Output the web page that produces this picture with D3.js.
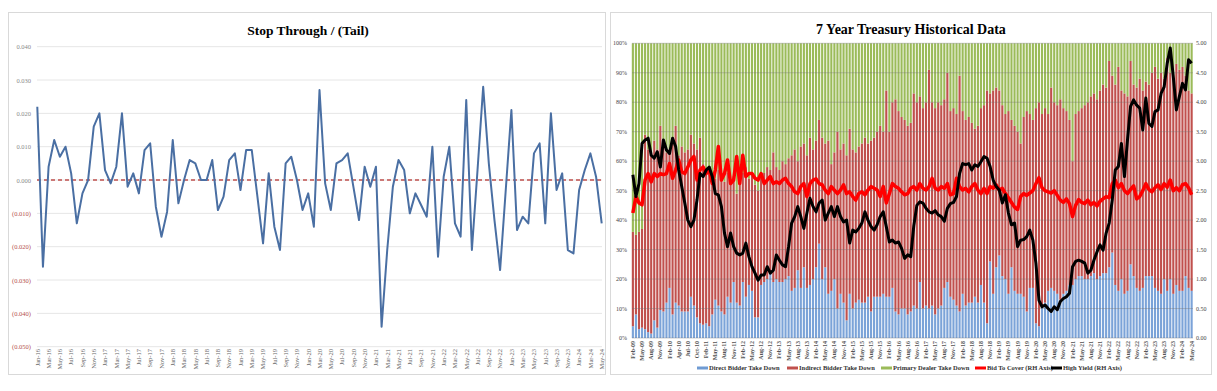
<!DOCTYPE html>
<html>
<head>
<meta charset="utf-8">
<script src="https://cdn.jsdelivr.net/npm/d3@7"></script>
<style>
  body { margin: 0; background: #fff; }
  text { font-family: "Liberation Serif", "Times New Roman", serif; }
</style>
</head>
<body>
<svg id="chart" width="1217" height="391"></svg>
<script>
// ---- left chart: stop through / (tail), monthly Jan-16 .. May-24
const STOP_TAIL = [
  0.022, -0.026, 0.004, 0.012, 0.007, 0.010, 0.002, -0.013, -0.004, 0.000, 0.016, 0.020,
  0.003, -0.001, 0.004, 0.020, -0.002, 0.002, -0.004, 0.009, 0.011, -0.008, -0.017, -0.0095,
  0.012, -0.007, 0.000, 0.006, 0.005, 0.000, 0.000, 0.006, -0.009, -0.005, 0.006, 0.008,
  -0.003, 0.009, 0.009, -0.005, -0.019, 0.002, -0.014, -0.021, 0.005, 0.007, 0.000, -0.009,
  -0.004, -0.014, 0.027, -0.001, -0.009, 0.005, 0.006, 0.008, -0.002, -0.012, 0.004, -0.002,
  0.004, -0.044, -0.021, -0.002, 0.006, 0.003, -0.010, -0.004, -0.0075, -0.011, 0.010, -0.023,
  0.001, 0.010, -0.013, -0.017, 0.024, -0.021, 0.003, 0.028, 0.005, -0.012, -0.027, -0.003,
  0.021, -0.015, -0.011, -0.013, 0.008, 0.011, -0.013, 0.020, -0.003, 0.002, -0.021, -0.022,
  -0.003, 0.003, 0.008, 0.001, -0.013
];
const LEFT_TICKS = [
  "Jan-16","Mar-16","May-16","Jul-16","Sep-16","Nov-16",
  "Jan-17","Mar-17","May-17","Jul-17","Sep-17","Nov-17",
  "Jan-18","Mar-18","May-18","Jul-18","Sep-18","Nov-18",
  "Jan-19","Mar-19","May-19","Jul-19","Sep-19","Nov-19",
  "Jan-20","Mar-20","May-20","Jul-20","Sep-20","Nov-20",
  "Jan-21","Mar-21","May-21","Jul-21","Sep-21","Nov-21",
  "Jan-22","Mar-22","May-22","Jul-22","Sep-22","Nov-22",
  "Jan-23","Mar-23","May-23","Jul-23","Sep-23","Nov-23",
  "Jan-24","Mar-24","May-24"
];
const LEFT_Y_TICKS = [0.04, 0.03, 0.02, 0.01, 0, -0.01, -0.02, -0.03, -0.04, -0.05];

// ---- right chart: 7 year auctions Feb-09 .. May-24 (184 auctions)
const DIRECT = [
  4, 8, 3, 3.5, 3, 2, 1.5, 6, 3.5, 9.5, 9, 12, 17, 8, 12, 11, 9, 9, 9, 14,
  11, 7, 5, 4.5, 5, 4, 8, 13, 11, 9, 8, 14, 12, 19, 12, 11, 19, 14, 18, 16,
  7, 7, 18, 19, 20, 22, 19, 20, 19, 19, 20, 21, 16, 17, 23, 17, 24, 17, 18, 20,
  24, 32, 20, 24, 15, 16, 20, 10, 15, 12, 6, 15, 10, 12, 13, 12, 12, 14, 9, 14,
  14, 14, 15, 14, 14, 17, 9, 8, 10, 10, 8, 9, 11, 10, 19, 10, 11, 10, 11, 8,
  10, 11, 17, 19, 14, 13, 11, 9, 15, 11, 12, 12, 14, 12, 18, 12, 5, 26, 15, 24,
  28, 21, 20, 15, 24, 16, 15, 15, 14, 9, 17, 17, 5, 4, 11, 12, 16, 17, 16, 15,
  13, 15, 16, 18, 18, 20, 21, 21, 20, 20, 21, 22, 20, 21, 22, 22, 24, 29, 18, 16,
  20, 15, 16, 25, 21, 17, 16, 17, 21, 21, 21, 17, 16, 15, 20, 16, 20, 15, 18, 16,
  16, 21, 17, 16
];
const INDIRECT = [
  32, 27, 33, 33.5, 66, 62, 61.5, 61, 60.5, 62.5, 57, 51, 47, 59, 60, 51, 56, 54, 55, 55,
  55, 57, 63, 54.5, 51, 54, 47, 41, 46, 46, 45, 42, 40, 36, 37, 42, 37, 44, 36, 39,
  45, 43, 36, 37, 38, 35, 44, 38, 38, 41, 39, 40, 46, 47, 37, 48, 42, 45, 50, 44,
  43, 42, 48, 42, 52, 43, 43, 60, 49, 54, 56, 56, 54, 51, 52, 54, 56, 52, 58, 54,
  56, 58, 55, 70, 56, 63, 72, 69, 65, 64, 64, 64, 72, 70, 63, 68, 69, 81, 69, 70,
  70, 68, 64, 71, 63, 65, 65, 80, 62, 63, 63, 61, 57, 60, 60, 67, 79, 57, 69, 61,
  56, 58, 56, 62, 50, 56, 55, 51, 61, 68, 59, 57, 73, 76, 65, 66, 60, 68, 64, 64,
  68, 63, 61, 56, 42, 56, 56, 57, 59, 60, 61, 61, 61, 63, 64, 63, 70, 60, 68, 76,
  64, 68, 66, 69, 65, 68, 72, 67, 66, 65, 69, 75, 72, 75, 68, 79, 70, 73, 75, 75,
  76, 68, 67, 67
];
const DEALER = [
  64, 65, 64, 63, 31, 36, 37, 33, 36, 28, 34, 37, 36, 33, 28, 38, 35, 37, 36, 31,
  34, 36, 32, 41, 44, 42, 45, 46, 43, 45, 47, 44, 48, 45, 51, 47, 44, 42, 46, 45,
  48, 50, 46, 44, 42, 43, 37, 42, 43, 40, 41, 39, 38, 36, 40, 35, 34, 38, 32, 36,
  33, 26, 32, 34, 33, 41, 37, 30, 36, 34, 38, 29, 36, 37, 35, 34, 32, 34, 33, 32,
  30, 28, 30, 16, 30, 20, 19, 23, 25, 26, 28, 27, 17, 20, 18, 22, 20, 9, 20, 22,
  20, 21, 19, 10, 23, 22, 24, 11, 23, 26, 25, 27, 29, 28, 22, 21, 16, 17, 16, 15,
  16, 21, 24, 23, 26, 28, 30, 34, 25, 23, 24, 26, 22, 20, 24, 22, 24, 15, 20, 21,
  19, 22, 23, 26, 40, 24, 23, 22, 21, 20, 18, 17, 19, 16, 14, 15, 6, 11, 14, 8,
  16, 17, 18, 6, 14, 15, 12, 16, 13, 14, 10, 8, 12, 10, 12, 5, 10, 12, 7, 9,
  8, 11, 16, 17
];
const BID_TO_COVER = [
  2.12, 2.40, 2.29, 2.26, 2.68, 2.79, 2.65, 2.79, 2.74, 2.79, 2.77, 2.79, 2.96, 2.71, 2.85, 3.02, 2.82, 2.79, 2.90, 3.02,
  3.08, 2.68, 2.85, 2.90, 2.79, 2.85, 2.62, 2.85, 3.25, 2.68, 2.79, 3.02, 2.62, 2.68, 3.08, 2.62, 3.10, 2.74, 2.79, 2.79,
  2.71, 2.68, 2.79, 2.62, 2.68, 2.74, 2.62, 2.65, 2.62, 2.68, 2.71, 2.62, 2.57, 2.48, 2.45, 2.57, 2.62, 2.40, 2.62, 2.68,
  2.70, 2.62, 2.60, 2.51, 2.45, 2.57, 2.51, 2.45, 2.51, 2.60, 2.45, 2.48, 2.40, 2.34, 2.45, 2.48, 2.43, 2.51, 2.57, 2.54,
  2.51, 2.40, 2.57, 2.29, 2.45, 2.62, 2.57, 2.54, 2.48, 2.43, 2.45, 2.54, 2.57, 2.51, 2.62, 2.54, 2.51, 2.57, 2.71, 2.54,
  2.51, 2.57, 2.54, 2.62, 2.43, 2.45, 2.71, 2.57, 2.51, 2.54, 2.48, 2.57, 2.62, 2.51, 2.45, 2.54, 2.45, 2.57, 2.54, 2.60,
  2.51, 2.54, 2.45, 2.38, 2.30, 2.22, 2.18, 2.40, 2.45, 2.42, 2.46, 2.50, 2.62, 2.72, 2.55, 2.50, 2.48, 2.46, 2.50, 2.42,
  2.34, 2.30, 2.36, 2.28, 2.06, 2.25, 2.35, 2.30, 2.28, 2.34, 2.26, 2.30, 2.24, 2.32, 2.36, 2.40, 2.38, 2.62, 2.68, 2.55,
  2.62, 2.50, 2.45, 2.52, 2.58, 2.36, 2.40, 2.50, 2.62, 2.52, 2.48, 2.55, 2.60, 2.52, 2.62, 2.56, 2.68, 2.50, 2.55, 2.50,
  2.60, 2.62, 2.55, 2.43
];
const HIGH_YIELD = [
  2.77, 2.40, 2.62, 3.30, 3.36, 3.39, 3.10, 3.05, 3.16, 2.90, 3.36, 3.19, 3.13, 3.39, 3.25, 2.85, 2.57, 2.29, 2.00, 1.89,
  2.00, 2.34, 2.79, 2.74, 2.85, 2.90, 2.74, 2.45, 2.43, 2.23, 1.78, 1.55, 1.78, 1.55, 1.44, 1.41, 1.44, 1.61, 1.38, 1.21,
  1.10, 0.98, 1.07, 1.07, 1.21, 1.10, 1.15, 1.41, 1.32, 1.24, 1.21, 1.55, 1.95, 2.06, 2.23, 2.06, 1.86, 2.12, 2.37, 2.23,
  2.14, 2.29, 2.34, 2.00, 2.12, 2.23, 2.06, 2.23, 2.06, 1.97, 2.00, 1.61, 1.83, 1.80, 1.86, 1.95, 2.14, 2.00, 1.89, 1.83,
  1.92, 2.06, 2.14, 1.89, 1.63, 1.66, 1.61, 1.63, 1.52, 1.35, 1.41, 1.38, 1.90, 2.25, 2.31, 2.29, 2.20, 2.14, 2.12, 2.16,
  2.09, 2.06, 1.98, 2.20, 2.28, 2.30, 2.40, 2.79, 2.96, 2.94, 2.96, 2.85, 2.94, 2.91, 2.99, 3.08, 3.05, 2.91, 2.68, 2.57,
  2.51, 2.29, 2.43, 2.12, 1.92, 1.95, 1.55, 1.66, 1.67, 1.72, 1.83, 1.66, 1.27, 0.64, 0.53, 0.56, 0.50, 0.45, 0.53, 0.48,
  0.62, 0.67, 0.70, 0.76, 1.21, 1.30, 1.32, 1.30, 1.27, 1.10, 1.15, 1.32, 1.46, 1.58, 1.49, 1.78, 1.95, 2.34, 2.85, 2.91,
  3.30, 2.74, 3.36, 3.93, 4.04, 3.95, 3.90, 3.53, 4.07, 3.64, 3.59, 3.84, 3.87, 4.15, 4.26, 4.66, 4.92, 4.43, 3.87, 4.10,
  4.32, 4.21, 4.72, 4.66
];
const RIGHT_TICKS = [
  "Feb-09","May-09","Aug-09","Nov-09","Feb-10","Apr-10","Jul-10","Oct-10",
  "Feb-11","May-11","Aug-11","Nov-11","Feb-12","May-12","Aug-12","Nov-12",
  "Feb-13","May-13","Aug-13","Nov-13","Feb-14","May-14","Aug-14","Nov-14",
  "Feb-15","May-15","Aug-15","Nov-15","Feb-16","May-16","Aug-16","Nov-16",
  "Feb-17","May-17","Aug-17","Nov-17","Feb-18","May-18","Aug-18","Nov-18",
  "Feb-19","May-19","Aug-19","Nov-19","Feb-20","May-20","Aug-20","Nov-20",
  "Feb-21","May-21","Aug-21","Nov-21","Feb-22","May-22","Aug-22","Nov-22",
  "Feb-23","May-23","Aug-23","Nov-23","Feb-24","May-24"
];
const PCT_TICKS = [0, 0.1, 0.2, 0.3, 0.4, 0.5, 0.6, 0.7, 0.8, 0.9, 1];
const RH_TICKS = [0, 0.5, 1, 1.5, 2, 2.5, 3, 3.5, 4, 4.5, 5];
const LEGEND = [
  { name: "Direct Bidder Take Down", color: "#6f9bd3" },
  { name: "Indirect Bidder Take Down", color: "#c0504d" },
  { name: "Primary Dealer Take Down", color: "#9bbb59" },
  { name: "Bid To Cover (RH Axis)", color: "#ff0000" },
  { name: "High Yield (RH Axis)", color: "#000000" }
];

const svg = d3.select("#chart");

// ================= left panel =================
const left = svg.append("g");
left.append("rect")
  .attr("x", 8.5).attr("y", 12.5).attr("width", 597).attr("height", 362)
  .attr("fill", "none").attr("stroke", "#d9d9d9");

left.append("text")
  .attr("x", 308).attr("y", 35)
  .attr("text-anchor", "middle")
  .attr("font-size", 13.5).attr("font-weight", "bold")
  .text("Stop Through / (Tail)");

const lx = d3.scalePoint().domain(d3.range(STOP_TAIL.length)).range([37.3, 601.7]);
const ly = d3.scaleLinear().domain([-0.05, 0.04]).range([346.7, 46.7]);

left.append("g").selectAll("line").data(LEFT_Y_TICKS).enter().append("line")
  .attr("x1", 37).attr("x2", 602)
  .attr("y1", d => ly(d)).attr("y2", d => ly(d))
  .attr("stroke", "#e6e6e6").attr("stroke-width", 1);

const fmt = d3.format(".3f");
left.append("g").selectAll("text").data(LEFT_Y_TICKS).enter().append("text")
  .attr("x", 31).attr("y", d => ly(d) + 2.5)
  .attr("text-anchor", "end")
  .attr("font-family", "Liberation Sans, Arial, sans-serif")
  .attr("font-size", 6.5)
  .attr("fill", d => d < 0 ? "#b5504e" : "#8a8a8a")
  .text(d => d < 0 ? "(" + fmt(-d) + ")" : fmt(d));

left.append("g").selectAll("text").data(LEFT_TICKS).enter().append("text")
  .attr("transform", (d, i) => "translate(" + (lx(i * 2) + 2.3) + ",349) rotate(-90)")
  .attr("text-anchor", "end")
  .attr("font-size", 6.5)
  .attr("fill", "#666")
  .text(d => d);

left.append("line")
  .attr("x1", 37).attr("x2", 602)
  .attr("y1", ly(0)).attr("y2", ly(0))
  .attr("stroke", "#c0504d").attr("stroke-width", 1.5)
  .attr("stroke-dasharray", "4,3");

left.append("path")
  .datum(STOP_TAIL)
  .attr("fill", "none")
  .attr("stroke", "#4a6fa3").attr("stroke-width", 2)
  .attr("stroke-linejoin", "round")
  .attr("d", d3.line().x((d, i) => lx(i)).y(d => ly(d)));

// ================= right panel =================
const right = svg.append("g");
right.append("rect")
  .attr("x", 610.5).attr("y", 12.5).attr("width", 601).attr("height", 362)
  .attr("fill", "none").attr("stroke", "#d9d9d9");

right.append("text")
  .attr("x", 911).attr("y", 34)
  .attr("text-anchor", "middle")
  .attr("font-size", 14).attr("font-weight", "bold")
  .text("7 Year Treasury Historical Data");

const n = DIRECT.length;
const bx = d3.scaleBand().domain(d3.range(n)).range([631.5, 1193]).paddingInner(0.3).paddingOuter(0.1);
const py = d3.scaleLinear().domain([0, 1]).range([338, 43.3]);
const ry = d3.scaleLinear().domain([0, 5]).range([338, 43.3]);

const rows = d3.range(n).map(i => ({ i: i, direct: DIRECT[i], indirect: INDIRECT[i], dealer: DEALER[i] }));
const stack = d3.stack().keys(["direct", "indirect", "dealer"]).offset(d3.stackOffsetExpand)(rows);
const barColors = { direct: "#7ba3d8", indirect: "#c0504d", dealer: "#9bbb59" };

right.append("g").selectAll("g").data(stack).enter().append("g")
  .attr("fill", d => barColors[d.key])
  .selectAll("rect").data(d => d).enter().append("rect")
    .attr("x", d => bx(d.data.i))
    .attr("width", bx.bandwidth())
    .attr("y", d => py(d[1]))
    .attr("height", d => py(d[0]) - py(d[1]));

right.append("g").selectAll("line").data(PCT_TICKS).enter().append("line")
  .attr("x1", 632).attr("x2", 1193)
  .attr("y1", d => py(d)).attr("y2", d => py(d))
  .attr("stroke", "#6e6e6e").attr("stroke-opacity", 0.45).attr("stroke-width", 0.8);

right.append("g").selectAll("text").data(PCT_TICKS).enter().append("text")
  .attr("x", 627).attr("y", d => py(d) + 2)
  .attr("text-anchor", "end")
  .attr("font-size", 6).attr("fill", "#444")
  .text(d => Math.round(d * 100) + "%");

right.append("g").selectAll("text").data(RH_TICKS).enter().append("text")
  .attr("x", 1196).attr("y", d => ry(d) + 2)
  .attr("font-size", 6).attr("fill", "#444")
  .text(d => d.toFixed(2));

right.append("g").selectAll("text").data(RIGHT_TICKS).enter().append("text")
  .attr("transform", (d, k) => "translate(" + (bx(k * 3) + bx.bandwidth() / 2 + 2) + ",341) rotate(-90)")
  .attr("text-anchor", "end")
  .attr("font-size", 6).attr("font-weight", "bold").attr("fill", "#555")
  .text(d => d);

const cx = i => bx(i) + bx.bandwidth() / 2;
right.append("path")
  .datum(BID_TO_COVER)
  .attr("fill", "none").attr("stroke", "#ff0000").attr("stroke-width", 3.5)
  .attr("stroke-linejoin", "round")
  .attr("d", d3.line().x((d, i) => cx(i)).y(d => ry(d)));

right.append("path")
  .datum(HIGH_YIELD)
  .attr("fill", "none").attr("stroke", "#000").attr("stroke-width", 3)
  .attr("stroke-linejoin", "round")
  .attr("d", d3.line().x((d, i) => cx(i)).y(d => ry(d)));

// legend
const legendX = [697, 787, 881, 975, 1051];
const leg = right.append("g").selectAll("g").data(LEGEND).enter().append("g")
  .attr("transform", (d, i) => "translate(" + legendX[i] + ",368)");
leg.append("line")
  .attr("x1", 0).attr("x2", 11).attr("y1", 0).attr("y2", 0)
  .attr("stroke", d => d.color).attr("stroke-width", 3);
leg.append("text")
  .attr("x", 12).attr("y", 2.2)
  .attr("font-size", 6.5).attr("font-weight", "bold").attr("fill", "#333")
  .text(d => d.name);
</script>
</body>
</html>
